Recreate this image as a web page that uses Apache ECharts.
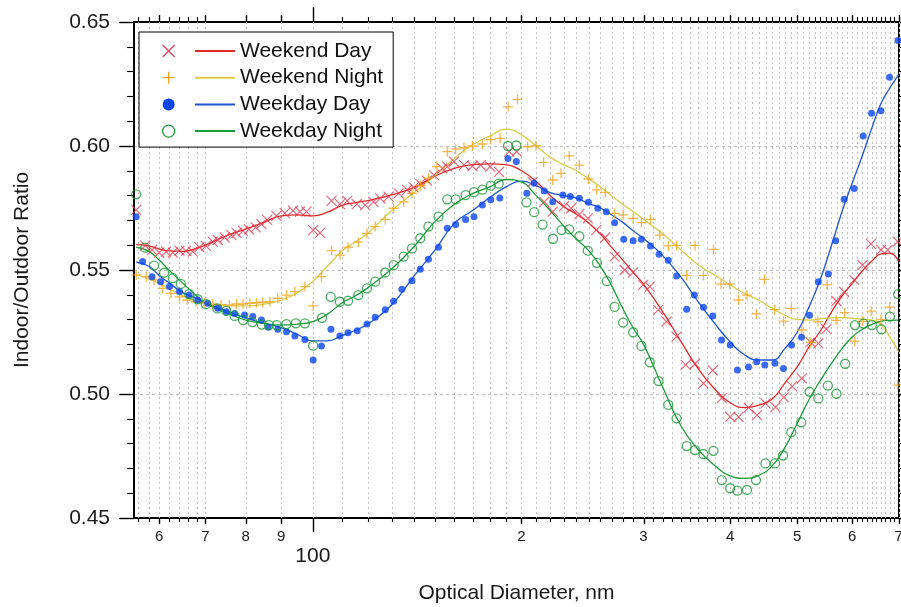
<!DOCTYPE html>
<html>
<head>
<meta charset="utf-8">
<title>Indoor/Outdoor Ratio</title>
<script src="https://cdn.jsdelivr.net/npm/echarts@6/dist/echarts.min.js"></script>
<style>
  * { margin: 0; padding: 0; }
  body { background: #fff; }
  #chart { width: 901px; height: 607px; }
</style>
</head>
<body>
<div id="chart"></div>
<script>
// measured points, [diameter nm, ratio]
const weekendDay = [
  [55.6,0.5742],[57.3,0.5598],[58.6,0.5581],[60.0,0.5570],[61.4,0.5574],[62.8,0.5570],[64.2,0.5578],[65.6,0.5577],[67.1,0.5574],[68.6,0.5592],
  [70.1,0.5597],[71.7,0.5614],[72.9,0.5621],[74.6,0.5632],[76.3,0.5641],[77.6,0.5650],[79.3,0.5658],[80.9,0.5664],[82.7,0.5672],[84.3,0.5685],
  [85.9,0.5702],[88.6,0.5718],[91.1,0.5729],[93.6,0.5739],[95.8,0.5735],[97.9,0.5735],[100.1,0.5661],[102.4,0.5650],[106.4,0.5779],[109.4,0.5766],
  [112.1,0.5779],[115.7,0.5766],[119.0,0.5762],[122.3,0.5775],[125.1,0.5789],[128.6,0.5796],[133.0,0.5809],[136.8,0.5823],[139.8,0.5833],[142.9,0.5847],
  [146.1,0.5860],[149.5,0.5883],[153.7,0.5910],[156.3,0.5917],[159.8,0.5937],[165.2,0.5923],[169.9,0.5919],[174.6,0.5923],[180.2,0.5917],[185.6,0.5896],
  [192.0,0.5977],[196.9,0.5977],[207.5,0.5855],[215.7,0.5775],[221.9,0.5735],[230.4,0.5758],[235.8,0.5749],[242.4,0.5725],[249.3,0.5708],[256.3,0.5661],
  [264.2,0.5631],[272.5,0.5554],[281.8,0.5500],[289.8,0.5490],[299.6,0.5440],[306.3,0.5433],[315.0,0.5339],[323.8,0.5292],[334.8,0.5231],[345.1,0.5117],
  [356.0,0.5122],[366.1,0.5043],[377.6,0.5095],[389.1,0.4983],[400.1,0.4908],[411.4,0.4908],[425.4,0.4945],[437.4,0.4915],[450.0,0.4962],[465.0,0.4947],
  [478.1,0.4986],[491.6,0.5031],[507.5,0.5063],[522.5,0.5209],[536.2,0.5204],[550.7,0.5262],[569.4,0.5375],[584.2,0.5412],[604.1,0.5460],[621.0,0.5520],
  [638.5,0.5605],[660.3,0.5581],[675.1,0.5581],[698.1,0.5614]
]
const weekendNight = [
  [55.6,0.5480],[57.5,0.5473],[59.0,0.5460],[60.7,0.5426],[62.4,0.5406],[64.2,0.5392],[65.9,0.5379],[67.8,0.5372],[69.7,0.5368],[71.7,0.5363],
  [73.7,0.5360],[75.8,0.5359],[77.6,0.5363],[79.3,0.5363],[81.1,0.5366],[82.9,0.5368],[84.6,0.5370],[86.7,0.5372],[89.0,0.5386],[91.6,0.5399],
  [94.2,0.5413],[97.4,0.5433],[100.1,0.5355],[102.9,0.5473],[106.4,0.5578],[109.4,0.5560],[112.4,0.5592],[116.3,0.5612],[119.7,0.5648],[123.0,0.5675],
  [127.2,0.5704],[130.8,0.5749],[135.2,0.5775],[139.0,0.5809],[142.9,0.5840],[146.8,0.5870],[151.0,0.5917],[156.3,0.5977],[160.7,0.5987],[165.2,0.5993],
  [169.9,0.6000],[175.6,0.6008],[180.6,0.6026],[186.3,0.6031],[191.3,0.6158],[197.4,0.6188],[204.1,0.5997],[209.8,0.6001],[215.2,0.5934],[221.9,0.5863],
  [228.1,0.5890],[234.4,0.5960],[242.4,0.5923],[249.8,0.5867],[256.9,0.5823],[264.2,0.5813],[272.5,0.5728],[280.3,0.5722],[289.8,0.5708],[297.9,0.5691],
  [307.0,0.5704],[316.7,0.5641],[325.7,0.5597],[334.8,0.5599],[346.2,0.5478],[356.0,0.5599],[366.1,0.5478],[378.5,0.5583],[388.2,0.5443],[399.3,0.5443],
  [411.4,0.5379],[423.0,0.5399],[436.6,0.5323],[448.2,0.5462],[463.7,0.5340],[477.8,0.5294],[490.1,0.5344],[507.5,0.5258],[522.9,0.5208],[535.3,0.5292],
  [552.5,0.5440],[568.8,0.5297],[585.2,0.5328],[605.2,0.5213],[621.6,0.5293],[639.3,0.5334],[660.3,0.5300],[679.4,0.5350],[698.1,0.5036]
]
const weekdayDay = [
  [55.6,0.5715],[56.8,0.5534],[58.6,0.5473],[60.3,0.5453],[62.1,0.5433],[64.2,0.5413],[66.3,0.5399],[68.2,0.5379],[70.5,0.5366],[72.9,0.5346],
  [75.0,0.5332],[77.1,0.5325],[79.7,0.5319],[81.9,0.5312],[84.3,0.5298],[86.2,0.5269],[89.0,0.5261],[91.6,0.5251],[94.2,0.5234],[97.4,0.5220],
  [100.1,0.5137],[102.9,0.5194],[106.2,0.5261],[109.4,0.5234],[112.4,0.5247],[115.9,0.5255],[119.7,0.5282],[123.0,0.5309],[127.2,0.5340],[130.8,0.5374],
  [134.4,0.5422],[139.0,0.5457],[142.9,0.5503],[146.8,0.5543],[151.8,0.5592],[156.3,0.5668],[160.7,0.5683],[166.1,0.5704],[170.8,0.5715],[175.6,0.5762],
  [180.6,0.5783],[186.1,0.5790],[191.2,0.5950],[196.6,0.5937],[203.6,0.5809],[208.6,0.5850],[215.7,0.5819],[221.9,0.5775],[229.5,0.5802],[235.2,0.5796],
  [242.4,0.5789],[249.8,0.5773],[257.7,0.5749],[265.1,0.5735],[272.5,0.5691],[280.9,0.5624],[289.8,0.5618],[297.9,0.5624],[307.0,0.5597],[315.9,0.5564],
  [325.7,0.5539],[334.8,0.5476],[346.2,0.5342],[355.2,0.5399],[366.1,0.5350],[377.6,0.5315],[388.7,0.5218],[400.1,0.5198],[409.8,0.5097],[425.1,0.5109],
  [436.9,0.5130],[448.9,0.5117],[464.1,0.5124],[477.6,0.5103],[490.6,0.5198],[507.1,0.5229],[520.8,0.5318],[536.2,0.5453],[554.3,0.5484],[568.1,0.5618],
  [584.2,0.5785],[604.1,0.5829],[622.5,0.6040],[640.0,0.6132],[660.3,0.6142],[679.4,0.6277],[698.8,0.6425]
]
const weekdayNight = [
  [55.6,0.5805],[57.3,0.5590],[59.0,0.5518],[61.0,0.5489],[62.8,0.5467],[64.5,0.5444],[66.3,0.5403],[68.2,0.5382],[70.1,0.5362],[72.8,0.5345],
  [75.0,0.5335],[77.1,0.5315],[79.3,0.5298],[81.8,0.5290],[84.4,0.5280],[86.4,0.5278],[88.7,0.5278],[91.6,0.5282],[94.5,0.5285],[97.4,0.5285],
  [100.1,0.5195],[103.1,0.5307],[106.1,0.5392],[109.4,0.5372],[112.4,0.5376],[116.3,0.5399],[119.7,0.5426],[123.0,0.5453],[127.2,0.5490],[130.8,0.5520],
  [135.2,0.5554],[139.0,0.5587],[142.9,0.5628],[146.8,0.5675],[151.8,0.5715],[156.3,0.5785],[160.7,0.5785],[166.1,0.5802],[170.8,0.5814],[175.6,0.5824],
  [180.6,0.5840],[185.4,0.5848],[191.2,0.6000],[196.6,0.6002],[203.3,0.5773],[208.6,0.5733],[214.5,0.5683],[222.1,0.5626],[228.5,0.5661],[234.4,0.5664],
  [242.4,0.5636],[249.3,0.5578],[257.0,0.5529],[265.5,0.5455],[272.5,0.5351],[280.3,0.5288],[289.8,0.5249],[297.9,0.5194],[306.3,0.5128],[315.3,0.5052],
  [325.7,0.4956],[334.8,0.4902],[346.2,0.4790],[356.0,0.4774],[366.1,0.4758],[378.5,0.4771],[389.1,0.4653],[400.1,0.4620],[409.8,0.4610],[423.0,0.4613],
  [435.9,0.4653],[449.7,0.4720],[464.4,0.4720],[477.0,0.4752],[490.1,0.4846],[506.6,0.4886],[520.8,0.5009],[536.2,0.4982],[553.4,0.5034],[569.4,0.5001],
  [586.2,0.5122],[605.6,0.5278],[623.1,0.5284],[640.6,0.5278],[661.2,0.5261],[680.2,0.5312],[698.8,0.5403]
]

// smooth fit curves, sampled at fitDiam
const fitDiam = [55.6,58,60,62,65,68,70,75,80,85,90,95,100,105,110,115,120,130,140,150,160,170,180,190,200,
  210,220,230,240,250,260,270,280,290,300,320,340,360,380,400,420,440,460,480,500,520,540,560,580,600,620,640,660,680,700]
const fitWeekendDay = [0.5602,0.5597,0.5585,0.5577,0.5575,0.5588,0.5600,0.5638,0.5665,0.5692,0.5718,0.5722,0.5718,0.5733,0.5760,0.5772,0.5780,0.5803,0.5833,0.5878,0.5910,0.5925,0.5928,0.5925,0.5900,
  0.5857,0.5800,0.5756,0.5725,0.5690,0.5645,0.5590,0.5540,0.5490,0.5443,0.5330,0.5210,0.5100,0.5020,0.4965,0.4945,0.4955,0.4980,0.5045,0.5110,0.5190,0.5255,0.5330,0.5395,0.5445,0.5495,0.5535,0.5565,0.5568,0.5535]
const fitWeekendNight = [0.5480,0.5465,0.5445,0.5425,0.5395,0.5375,0.5365,0.5355,0.5355,0.5362,0.5378,0.5408,0.5455,0.5515,0.5575,0.5612,0.5648,0.5740,0.5813,0.5880,0.5950,0.6005,0.6040,0.6068,0.6045,
  0.6000,0.5955,0.5925,0.5900,0.5868,0.5835,0.5798,0.5765,0.5735,0.5705,0.5645,0.5580,0.5520,0.5480,0.5440,0.5405,0.5378,0.5345,0.5318,0.5300,0.5298,0.5303,0.5307,0.5308,0.5305,0.5302,0.5298,0.5280,0.5230,0.5170]
const fitWeekdayDay = [0.5532,0.5515,0.5478,0.5448,0.5408,0.5385,0.5367,0.5335,0.5307,0.5285,0.5268,0.5240,0.5214,0.5214,0.5235,0.5256,0.5282,0.5360,0.5476,0.5580,0.5688,0.5740,0.5792,0.5835,0.5858,
  0.5840,0.5812,0.5800,0.5790,0.5768,0.5750,0.5722,0.5692,0.5658,0.5627,0.5557,0.5470,0.5370,0.5285,0.5210,0.5157,0.5137,0.5137,0.5184,0.5250,0.5352,0.5464,0.5598,0.5735,0.5850,0.5958,0.6070,0.6170,0.6234,0.6287]
const fitWeekdayNight = [0.5592,0.5575,0.5540,0.5500,0.5445,0.5395,0.5365,0.5328,0.5298,0.5285,0.5278,0.5282,0.5292,0.5322,0.5366,0.5395,0.5428,0.5505,0.5595,0.5695,0.5765,0.5808,0.5835,0.5865,0.5855,
  0.5800,0.5740,0.5678,0.5625,0.5578,0.5515,0.5435,0.5345,0.5265,0.5200,0.5025,0.4870,0.4775,0.4712,0.4670,0.4660,0.4672,0.4710,0.4785,0.4882,0.4978,0.5055,0.5123,0.5183,0.5230,0.5260,0.5280,0.5293,0.5297,0.5298]

// x axis ticks (log axis, Igor style)
const minorTicks = [56,58,62,64,66,68,110,120,130,140,150,160,170,180,190,210,220,230,240,250,260,270,280,290,
  310,320,330,340,350,360,370,380,390,410,420,430,440,450,460,470,480,490,510,520,530,540,550,560,570,580,590,
  610,620,630,640,650,660,670,680,690]
const majorTicks = [60,70,80,90,100,200,300,400,500,600,700]
const majorLabels = ['6','7','8','9','100','2','3','4','5','6','7']

const names = ['Weekend Day', 'Weekend Night', 'Weekday Day', 'Weekday Night']
const points = [weekendDay, weekendNight, weekdayDay, weekdayNight]
const fits = [fitWeekendDay, fitWeekendNight, fitWeekdayDay, fitWeekdayNight]

const FONT = "'Liberation Sans', Arial, sans-serif"
const lineColors = ['#e02a2a', '#d8cc48', '#1f55d0', '#1b9a3a']
const markStyles = [
  { symbol: 'path://M0,0L10,10M10,0L0,10', size: 10, style: { color: 'rgba(0,0,0,0)', borderColor: '#e2384e', borderWidth: 1.1 } },
  { symbol: 'path://M5,0L5,10M0,5L10,5', size: 10, style: { color: 'rgba(0,0,0,0)', borderColor: '#f5a31c', borderWidth: 1.3 } },
  { symbol: 'circle', size: 7, style: { color: '#0a46f0', borderWidth: 0 } },
  { symbol: 'circle', size: 9, style: { color: 'rgba(255,255,255,0)', borderColor: '#1b9a3a', borderWidth: 1.3 } }
]

const X_MIN = 55.2, X_MAX = 701, Y_MIN = 0.45, Y_MAX = 0.65

const tickData = minorTicks.map(v => [v, 0.55, 0, -1])
  .concat(majorTicks.map((v, i) => [v, 0.55, v === 100 ? 2 : 1, i]))

function renderTick(params, api) {
  const d = api.value(0)
  const kind = api.value(2)
  const li = api.value(3)
  const bot = api.coord([d, Y_MIN])
  const top = api.coord([d, Y_MAX])
  const x = Math.round(bot[0]) + 0.5
  const botLen = [4, 6, 14][kind]
  const topLen = [5, 7, 15][kind]
  const w = kind ? 1.4 : 1.1
  const children = [
    { type: 'line', shape: { x1: x, y1: top[1], x2: x, y2: bot[1] }, style: { stroke: '#c2c2c2', lineWidth: 1, lineDash: [2, 3] } },
    { type: 'line', shape: { x1: x, y1: bot[1], x2: x, y2: bot[1] + botLen }, style: { stroke: '#000', lineWidth: w } },
    { type: 'line', shape: { x1: x, y1: top[1], x2: x, y2: top[1] - topLen }, style: { stroke: '#000', lineWidth: w } }
  ]
  if (li >= 0) {
    children.push({
      type: 'text',
      style: {
        text: majorLabels[li], x: bot[0], y: bot[1] + (kind === 2 ? 38 : 19),
        align: 'center', verticalAlign: 'middle',
        fontSize: kind === 2 ? 21 : 15, fontFamily: FONT, fill: '#1a1a1a'
      }
    })
  }
  return { type: 'group', children }
}

const xBase = {
  type: 'log', logBase: 10, min: X_MIN, max: X_MAX,
  axisLine: { show: true, lineStyle: { color: '#000', width: 2 } },
  axisTick: { show: false }, axisLabel: { show: false },
  splitLine: { show: false }, minorTick: { show: false }, minorSplitLine: { show: false }
}
const yBase = {
  type: 'value', min: Y_MIN, max: Y_MAX, interval: 0.05,
  axisLine: { show: true, lineStyle: { color: '#000', width: 2 } },
  axisTick: { show: true, inside: false, length: 15, lineStyle: { color: '#000', width: 1.4 } },
  minorTick: { show: true, splitNumber: 5, length: 7, lineStyle: { color: '#000', width: 1.1 } }
}

const series = []
names.forEach((name, i) => {
  series.push({
    name, type: 'line', z: 2, smooth: true, showSymbol: false, symbol: 'none',
    lineStyle: { color: lineColors[i], width: 1.3 },
    itemStyle: { color: lineColors[i] },
    data: fitDiam.map((d, k) => [d, fits[i][k]])
  })
})
names.forEach((name, i) => {
  series.push({
    name, type: 'scatter', z: 3,
    symbol: markStyles[i].symbol, symbolSize: markStyles[i].size,
    itemStyle: markStyles[i].style,
    data: points[i]
  })
})
series.push({
  type: 'custom', z: 1, silent: true, clip: false,
  xAxisIndex: 0, yAxisIndex: 0,
  encode: { x: 0, y: 1 },
  renderItem: renderTick,
  data: tickData
})

const legendText = { fontSize: 21, lineHeight: 22, color: '#111', fontFamily: FONT }

const option = {
  animation: false,
  backgroundColor: '#fff',
  grid: { left: 134, right: 2, top: 22, bottom: 89, outerBoundsMode: 'none' },
  xAxis: [
    Object.assign({}, xBase, {
      position: 'bottom',
      name: 'Optical Diameter, nm', nameLocation: 'middle', nameGap: 65,
      nameTextStyle: { fontSize: 21, color: '#1a1a1a', fontFamily: FONT }
    }),
    Object.assign({}, xBase, { position: 'top' })
  ],
  yAxis: [
    Object.assign({}, yBase, {
      position: 'left',
      name: 'Indoor/Outdoor Ratio', nameLocation: 'middle', nameGap: 101,
      nameTextStyle: { fontSize: 21, color: '#1a1a1a', fontFamily: FONT },
      axisLabel: { margin: 24, fontSize: 21, color: '#1a1a1a', fontFamily: FONT, formatter: v => v.toFixed(2) },
      splitLine: { show: true, lineStyle: { color: '#c2c2c2', width: 1, type: [3, 3] } }
    }),
    Object.assign({}, yBase, {
      position: 'right',
      axisLabel: { show: false },
      splitLine: { show: false }
    })
  ],
  legend: [
    {
      // line samples + names, with the frame
      orient: 'vertical', left: 139, top: 32, selectedMode: false,
      padding: [8, 10, 5, 56], itemGap: 4.7, itemWidth: 40, itemHeight: 2, icon: 'rect',
      borderColor: '#000', borderWidth: 1, backgroundColor: '#fff',
      textStyle: legendText,
      data: names.map((n, i) => ({ name: n, itemStyle: { color: lineColors[i], borderWidth: 0 } }))
    },
    {
      // marker samples, no text
      orient: 'vertical', left: 162, top: 32, selectedMode: false,
      padding: [8, 0, 5, 0], itemGap: 4.7, itemWidth: 12, itemHeight: 12,
      textStyle: legendText, formatter: () => ' ',
      data: names.map((n, i) => ({
        name: n,
        icon: markStyles[i].symbol,
        itemStyle: Object.assign({}, markStyles[i].style, i === 2 ? {} : {}),
      }))
    }
  ],
  series
}

const chart = echarts.init(document.getElementById('chart'))
chart.setOption(option)
</script>
</body>
</html>
